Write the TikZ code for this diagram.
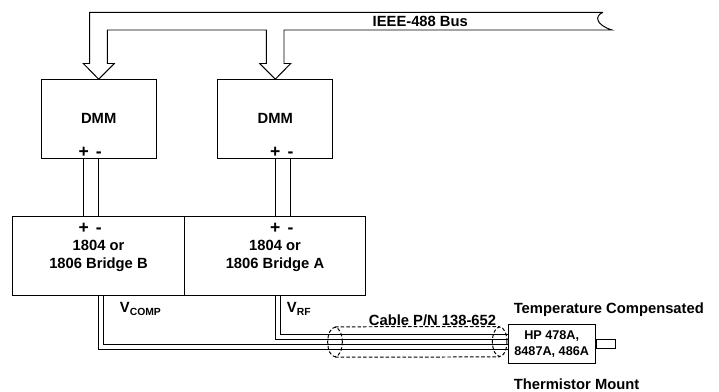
\documentclass[tikz,border=0pt]{standalone}
\usepackage{fontspec}
\setmainfont{Liberation Sans}
\usepackage{tikz}
\usetikzlibrary{calc,shapes.geometric}

\begin{document}
\begin{tikzpicture}[x=0.025cm,y=-0.025cm,line width=0.7pt,font=\bfseries\fontsize{10.5}{12.6}\selectfont,
  box/.style={draw,inner sep=0pt},
  term/.style={anchor=base,inner sep=0pt,font=\bfseries\fontsize{12.5}{15}\selectfont},
  cab/.style={draw,ellipse,inner sep=0pt,dash pattern=on 2.5pt off 1.5pt,minimum width=0.365cm,minimum height=0.735cm}]
  \useasboundingbox (0,0) rectangle (719,391);
  \node[box,minimum width=2.87cm,minimum height=1.96cm] (dmmb) at (98.7,118.9) {DMM};
  \node[box,minimum width=2.87cm,minimum height=1.96cm] (dmma) at (275.3,118.9) {DMM};
  \node[box,minimum width=4.29cm,minimum height=1.96cm,align=center] (brb) at (98.5,255.8) {1804 or\\1806 Bridge B};
  \node[box,minimum width=4.535cm,minimum height=1.96cm,align=center] (bra) at (275,255.8) {1804 or\\1806 Bridge A};
  \node[box,minimum width=2.17cm,minimum height=0.975cm,align=center,font=\bfseries\fontsize{9}{11.1}\selectfont] (mount) at (551.7,343.8) {HP 478A,\\8487A, 486A};
  \node[box,minimum width=0.48cm,minimum height=0.24cm,anchor=west] (stub) at (mount.east) {};
  % terminals
  \node[term] (pdb) at (83.7,157) {+};
  \node[term] (mdb) at (98.9,157) {-};
  \node[term] (pda) at (275.3,157) {+};
  \node[term] (mda) at (290.5,157) {-};
  \node[term] (pbb) at (83.7,233) {+};
  \node[term] (mbb) at (98.9,233) {-};
  \node[term] (pba) at (275.3,233) {+};
  \node[term] (mba) at (290.5,233) {-};
  \draw (pdb |- dmmb.south) -- (pdb |- brb.north);
  \draw (mdb |- dmmb.south) -- (mdb |- brb.north);
  \draw (pda |- dmma.south) -- (pda |- bra.north);
  \draw (mda |- dmma.south) -- (mda |- bra.north);
  % bus
  \draw (603,12.3) -- (89.7,12.3) |- ($(dmmb.north)+(-15.4,-15.7)$) -- (dmmb.north) -- ++(15.6,-15.7) -- ++(-7,0)
    |- (266.3,30) |- ($(dmma.north)+(-15.6,-15.7)$) -- (dmma.north) -- ++(15.4,-15.7) -- ++(-6.7,0)
    |- (612,30) .. controls (596,25) and (594,16) .. (603,12.3);
  \node[anchor=base] (bus) at (420.3,26.5) {IEEE-488 Bus};
  % sensor leads
  \draw (brb.south) |- ($(mount.west)+(0,5.5)$);
  \draw ($(brb.south)+(5,0)$) |- ($(mount.west)+(0,0.5)$);
  \draw ($(bra.south)+(0.3,0)$) |- ($(mount.west)+(0,-4.8)$);
  \draw ($(bra.south)+(5.3,0)$) |- ($(mount.west)+(0,-9.8)$);
  \node[anchor=base west,inner sep=0pt] (vcomp) at (119.5,312.7) {V\textsubscript{COMP}};
  \node[anchor=base west,inner sep=0pt] (vrf) at (286.5,312.7) {V\textsubscript{RF}};
  % cable
  \node[cab] (cabl) at (335,342) {};
  \node[cab] (cabr) at (499.7,341.7) {};
  \draw[dash pattern=on 2.5pt off 1.5pt] (cabl.north) -- (cabr.north);
  \draw[dash pattern=on 2.5pt off 1.5pt] (cabl.south) -- (cabr.south);
  \node[anchor=base] (cable) at (432.5,325.5) {Cable P/N 138-652};
  \node[anchor=base west,inner sep=0pt] (tc) at (513.3,313.3) {Temperature Compensated};
  \node[anchor=base west,inner sep=0pt] (tm) at (513.3,389) {Thermistor Mount};
\end{tikzpicture}
\end{document}
